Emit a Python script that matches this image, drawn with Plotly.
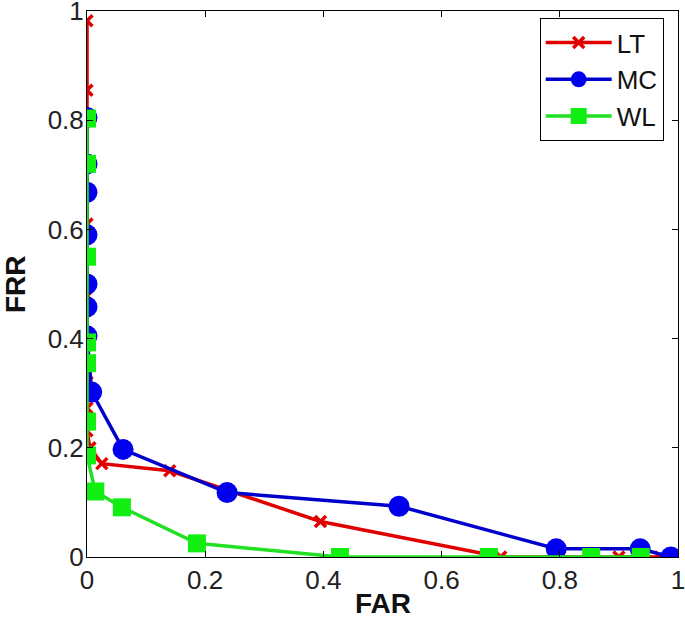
import plotly.graph_objects as go

lt_far = [0, 0, 0, 0, 0, 0, 0, 0.005, 0.025, 0.14, 0.395, 0.70, 0.90, 0.97]
lt_frr = [0.982, 0.855, 0.61, 0.478, 0.32, 0.273, 0.231, 0.20, 0.171, 0.158, 0.065, 0.0, 0.0, 0.0]

mc_far = [0, 0, 0, 0, 0, 0, 0, 0.008, 0.061, 0.237, 0.528, 0.794, 0.936, 0.988]
mc_frr = [0.805, 0.72, 0.668, 0.59, 0.50, 0.458, 0.405, 0.302, 0.197, 0.118, 0.093, 0.015, 0.015, 0.0]

wl_far = [0, 0, 0, 0, 0, 0, 0, 0.014, 0.059, 0.186, 0.428, 0.68, 0.853, 0.937]
wl_frr = [0.803, 0.72, 0.55, 0.393, 0.355, 0.248, 0.186, 0.12, 0.091, 0.025, 0.0, 0.0, 0.0, 0.0]

x_ticks = [0, 0.2, 0.4, 0.6, 0.8, 1]
x_tick_text = ["0", "0.2", "0.4", "0.6", "0.8", "1"]
y_ticks = [0, 0.2, 0.4, 0.6, 0.8, 1]
y_tick_text = ["0", "0.2", "0.4", "0.6", "0.8", "1"]

FONT = "Liberation Sans, Arial"

fig = go.Figure()
fig.add_trace(go.Scatter(x=lt_far, y=lt_frr, name="LT", mode="lines+markers",
                         line=dict(color="#e00000", width=3.5),
                         marker=dict(symbol="x-thin", size=11, color="#e00000",
                                     line=dict(color="#e00000", width=3.5))))
fig.add_trace(go.Scatter(x=mc_far, y=mc_frr, name="MC", mode="lines+markers",
                         line=dict(color="#0000cc", width=3.5),
                         marker=dict(symbol="circle", size=21, color="#0000ee")))
fig.add_trace(go.Scatter(x=wl_far, y=wl_frr, name="WL", mode="lines+markers",
                         line=dict(color="#22e022", width=3.5),
                         marker=dict(symbol="square", size=18, color="#11ee11")))

axis_common = dict(showgrid=False, zeroline=False, showline=True, linecolor="black",
                   linewidth=1, mirror="ticks", ticks="inside", ticklen=6,
                   tickcolor="black", range=[0, 1], automargin=False,
                   ticklabeloverflow="allow",
                   tickfont=dict(family=FONT, size=26, color="#222"))

fig.update_layout(
    width=685, height=619,
    margin=dict(l=87, r=7, t=11, b=62),
    paper_bgcolor="white", plot_bgcolor="white",
    xaxis=dict(**axis_common, tickvals=x_ticks, ticktext=x_tick_text),
    yaxis=dict(**axis_common, tickvals=y_ticks, ticktext=y_tick_text,
               ticklabelstandoff=-3),
    legend=dict(x=0.766, y=0.987, xanchor="left", yanchor="top",
                bordercolor="black", borderwidth=1, bgcolor="white",
                font=dict(family=FONT, size=26, color="#111"),
                tracegroupgap=0, itemwidth=66),
    annotations=[
        dict(text="<b>FAR</b>", x=0.5, y=0, xref="paper", yref="paper",
             xanchor="center", yanchor="middle", yshift=-46, showarrow=False,
             font=dict(family=FONT, size=28, color="#111")),
        dict(text="<b>FRR</b>", x=0, y=0.5, xref="paper", yref="paper",
             xanchor="center", yanchor="middle", xshift=-72, textangle=-90,
             showarrow=False, font=dict(family=FONT, size=28, color="#111")),
    ],
    showlegend=True,
)

fig.write_html("out.html", config={"displayModeBar": False},
               post_script="document.body.style.margin='0';")
